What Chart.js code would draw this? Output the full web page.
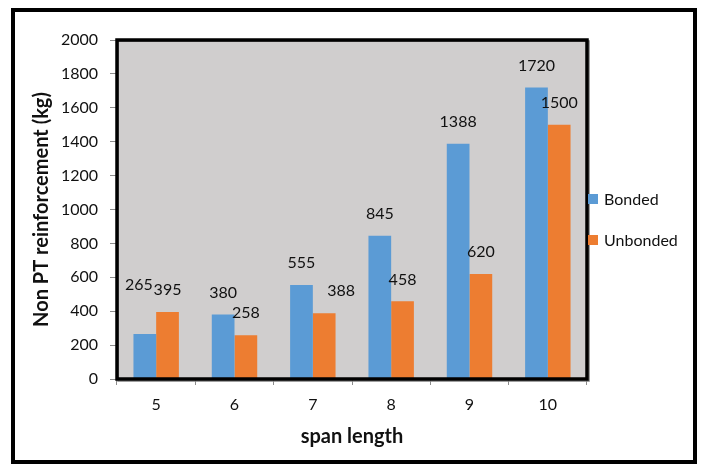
<!DOCTYPE html>
<html>
<head>
<meta charset="utf-8">
<script src="https://cdn.jsdelivr.net/npm/chart.js@4"></script>
<style>
  html, body { margin: 0; padding: 0; background: #ffffff; }
  #wrap { width: 707px; height: 464px; position: relative; }
</style>
</head>
<body>
<div id="wrap"><canvas id="c" width="707" height="464"></canvas></div>
<script>
const categories = ['5', '6', '7', '8', '9', '10'];
const bonded = [265, 380, 555, 845, 1388, 1720];
const unbonded = [395, 258, 388, 458, 620, 1500];
const seriesNames = ['Bonded', 'Unbonded'];
const yTickMin = 0, yTickMax = 2000, yTickStep = 200;
const xTitle = 'span length';
const yTitle = 'Non PT reinforcement (kg)';

const FONT = 'Lato, "Open Sans", sans-serif';
const BLUE = '#5B9BD5', ORANGE = '#ED7D31';

const decor = {
  id: 'decor',
  beforeDraw(chart) {
    const { ctx, chartArea: a } = chart;
    ctx.save();
    ctx.fillStyle = '#ffffff';
    ctx.fillRect(0, 0, chart.width, chart.height);
    ctx.fillStyle = '#D0CECE';
    ctx.fillRect(a.left, a.top, a.right - a.left, a.bottom - a.top);
    ctx.restore();
  },
  afterDatasetsDraw(chart, args, opts) {
    const { ctx, chartArea: a } = chart;
    ctx.save();
    // data labels
    ctx.font = '16px ' + FONT;
    ctx.fillStyle = '#111111';
    ctx.textAlign = 'center';
    ctx.textBaseline = 'middle';
    chart.data.datasets.forEach((ds, di) => {
      chart.getDatasetMeta(di).data.forEach((bar, i) => {
        const n = (opts.nudge[di] && opts.nudge[di][i]) || [0, 0];
        ctx.fillText(String(ds.data[i]), bar.x + n[0], bar.y - 22 + n[1]);
      });
    });
    // plot frame
    ctx.strokeStyle = '#808080';
    ctx.lineWidth = 1.5;
    ctx.strokeRect(a.left + 1, a.top + 1, a.right - a.left + 1, a.bottom - a.top + 1);
    ctx.strokeStyle = '#000000';
    ctx.lineWidth = 3.5;
    ctx.strokeRect(a.left, a.top, a.right - a.left, a.bottom - a.top);
    // legend
    ctx.font = '16px ' + FONT;
    ctx.textAlign = 'left';
    const lx = a.right + 1, ly = [199, 240];
    chart.data.datasets.forEach((ds, di) => {
      ctx.fillStyle = ds.backgroundColor;
      ctx.fillRect(lx, ly[di] - 5, 10, 10);
      ctx.fillStyle = '#111111';
      ctx.fillText(ds.label, lx + 16, ly[di] + 1);
    });
    // outer border
    ctx.strokeStyle = '#000000';
    ctx.lineWidth = 4;
    ctx.strokeRect(13, 10, 682, 452);
    ctx.restore();
  }
};

new Chart(document.getElementById('c'), {
  type: 'bar',
  data: {
    labels: categories,
    datasets: [
      { label: seriesNames[0], data: bonded, backgroundColor: BLUE, categoryPercentage: 0.58, barPercentage: 1 },
      { label: seriesNames[1], data: unbonded, backgroundColor: ORANGE, categoryPercentage: 0.58, barPercentage: 1 }
    ]
  },
  options: {
    responsive: false,
    animation: false,
    devicePixelRatio: 1,
    layout: { padding: { left: 0, top: 40, right: 120, bottom: 0 } },
    plugins: {
      legend: { display: false },
      tooltip: { enabled: false },
      decor: { nudge: [[[-6, -27]], [null, null, [17, 0]]] }
    },
    scales: {
      x: {
        grid: { drawOnChartArea: false, drawTicks: true, tickLength: 6, color: '#8c8c8c', offset: true },
        border: { display: false },
        ticks: { color: '#111111', font: { family: FONT, size: 16 }, padding: 10 },
        title: { display: true, text: xTitle, color: '#111111', font: { family: FONT, size: 20, weight: 'bold' }, padding: { top: 0, bottom: 15 } },
        afterFit(s) { s.height = 85; }
      },
      y: {
        min: yTickMin, max: yTickMax,
        grid: { drawOnChartArea: false, drawTicks: true, tickLength: 7, color: '#8c8c8c' },
        border: { display: false },
        ticks: { stepSize: yTickStep, color: '#111111', font: { family: FONT, size: 16 }, padding: 12, callback: v => String(v) },
        title: { display: true, text: yTitle, color: '#111111', font: { family: FONT, size: 20, weight: 'bold' }, padding: { top: 30, bottom: 0 } },
        afterFit(s) { s.width = 117; }
      }
    }
  },
  plugins: [decor]
});
</script>
</body>
</html>
